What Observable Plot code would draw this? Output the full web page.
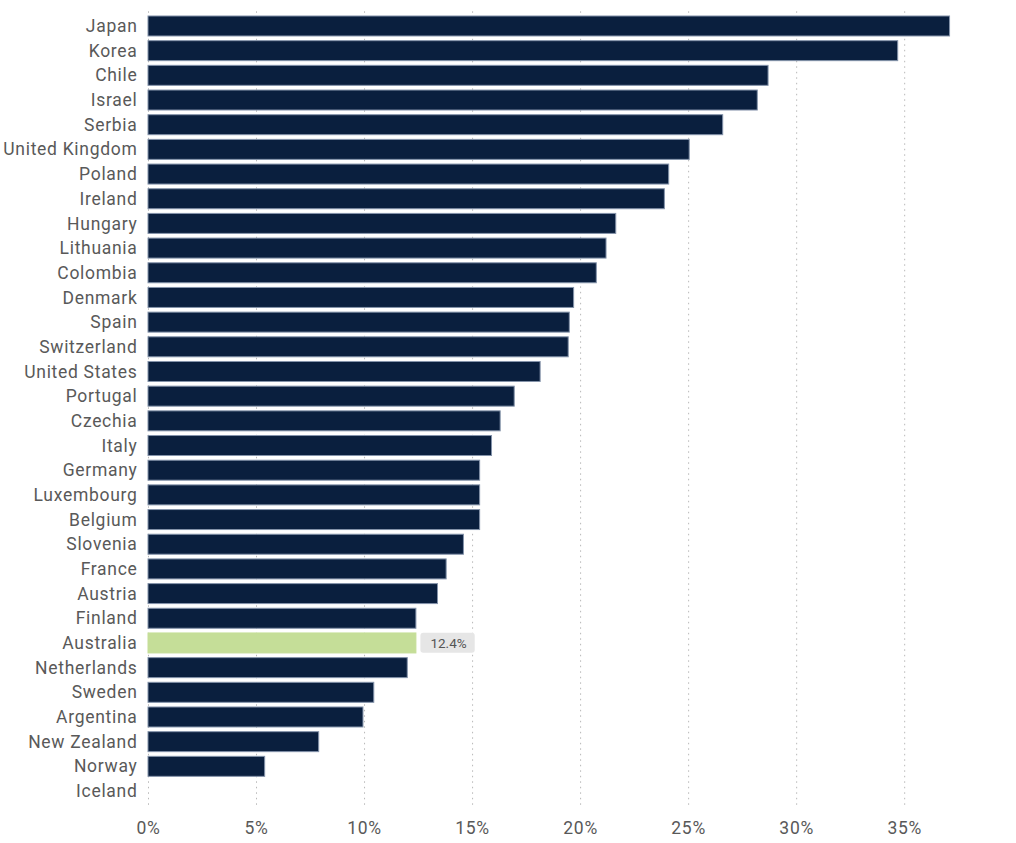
<!DOCTYPE html>
<html>
<head>
<meta charset="utf-8">
<script src="https://cdn.jsdelivr.net/npm/d3@7"></script>
<script src="https://cdn.jsdelivr.net/npm/@observablehq/plot@0.6"></script>
<style>
  html, body { margin: 0; padding: 0; background: #fff; }
  #chart { width: 1016px; height: 843px; }
  #chart svg g[aria-label="y-axis tick label"] text,
  #chart svg g[aria-label="x-axis tick label"] text { letter-spacing: 0.7px; }
</style>
</head>
<body>
<div id="chart"></div>
<script>
const countries = ["Japan","Korea","Chile","Israel","Serbia","United Kingdom","Poland","Ireland","Hungary","Lithuania","Colombia","Denmark","Spain","Switzerland","United States","Portugal","Czechia","Italy","Germany","Luxembourg","Belgium","Slovenia","France","Austria","Finland","Australia","Netherlands","Sweden","Argentina","New Zealand","Norway","Iceland"];
const values = [37.1,34.7,28.7,28.2,26.6,25.05,24.1,23.9,21.65,21.2,20.75,19.7,19.5,19.45,18.15,16.95,16.3,15.9,15.35,15.35,15.35,14.6,13.8,13.4,12.4,12.4,12.0,10.45,9.95,7.9,5.4,0];
const highlight = "Australia";
const xTicks = [0,5,10,15,20,25,30,35];

const data = countries.map((c, i) => ({country: c, value: values[i], hl: c === highlight}));
const FONT = "Roboto, 'DejaVu Sans', sans-serif";

const chart = Plot.plot({
  width: 1016,
  height: 843,
  marginLeft: 148,
  marginRight: 47,
  marginTop: 11.3,
  marginBottom: 37.3,
  style: {fontFamily: FONT, fontSize: "17.5px", color: "#595959", background: "#fff"},
  x: {domain: [0, 38], ticks: xTicks, tickFormat: d => d + "%", label: null},
  y: {domain: countries, paddingInner: 0.19, paddingOuter: 0.19, round: false, label: null},
  marks: [
    Plot.gridX(xTicks, {stroke: "#b8b8b8", strokeOpacity: 1, strokeDasharray: "1.5,4", strokeWidth: 1}),
    Plot.barX(data, {
      x: "value", y: "country",
      fill: d => d.hl ? "#c5de98" : "#0a1f3e",
      stroke: d => d.hl ? "#c5de98" : "#8493aa",
      strokeWidth: 1
    }),
    Plot.axisY({tickSize: 0, tickPadding: 11, fontSize: 17.5, fill: "#595959"}),
    Plot.axisX({ticks: xTicks, tickFormat: d => d + "%", tickSize: 0, tickPadding: 15, fontSize: 17.5, fill: "#595959"}),
    Plot.text(data.filter(d => d.hl), {
      x: "value", y: "country",
      text: d => d.value.toFixed(1) + "%",
      textAnchor: "start", dx: 14, fontSize: 13.5, fill: "#555",
      className: "hl-label"
    })
  ]
});
document.getElementById("chart").appendChild(chart);

// rounded background box behind the highlight label
chart.querySelectorAll(".hl-label text").forEach(t => {
  const b = t.getBBox();
  const r = document.createElementNS("http://www.w3.org/2000/svg", "rect");
  r.setAttribute("x", b.x - 10);
  r.setAttribute("y", b.y + b.height / 2 - 10);
  r.setAttribute("width", b.width + 18);
  r.setAttribute("height", 20);
  r.setAttribute("rx", 3);
  r.setAttribute("fill", "#e6e6e6");
  if (t.getAttribute("transform")) r.setAttribute("transform", t.getAttribute("transform"));
  t.parentNode.insertBefore(r, t);
});
</script>
</body>
</html>
